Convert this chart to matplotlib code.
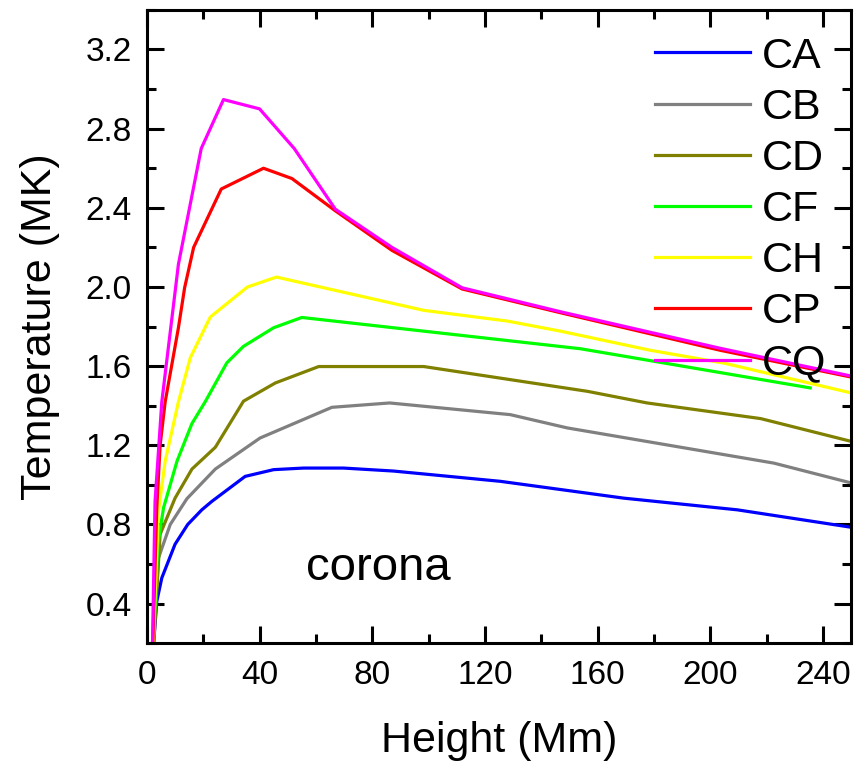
import matplotlib
matplotlib.use('Agg')
import matplotlib.pyplot as plt
from matplotlib.ticker import MultipleLocator

plt.rcParams['font.family'] = ['Liberation Sans', 'DejaVu Sans']

# temperature profiles (MK) against height (Mm)
ca_h = [1.8, 2.4, 3.5, 5.3, 10, 14.5, 19.5, 23.1, 34.9, 45, 55.6, 69.8, 87.5, 125.5, 169.3, 209.6, 250]
ca_t = [0.05, 0.2, 0.41, 0.53, 0.70, 0.80, 0.874, 0.917, 1.043, 1.077, 1.085, 1.085, 1.07, 1.018, 0.933, 0.874, 0.786]

cb_h = [1.8, 2.2, 4.1, 8.3, 14.2, 24.3, 40.2, 65.7, 86.2, 129, 149.2, 222.6, 250]
cb_t = [0.05, 0.2, 0.63, 0.80, 0.93, 1.08, 1.237, 1.392, 1.414, 1.355, 1.288, 1.11, 1.01]

cd_h = [1.8, 4.7, 10, 16, 24.3, 34.3, 45.6, 61, 98.3, 156.3, 177.6, 217.9, 250]
cd_t = [0.05, 0.75, 0.933, 1.08, 1.19, 1.423, 1.515, 1.598, 1.598, 1.473, 1.414, 1.335, 1.22]

cf_h = [1.8, 3.9, 5.9, 10.7, 16, 20.7, 28.4, 34.3, 45, 55, 153.9, 235.5]
cf_t = [0.05, 0.70, 0.883, 1.12, 1.31, 1.42, 1.617, 1.70, 1.794, 1.846, 1.688, 1.49]

ch_h = [1.8, 4.1, 6.5, 11.2, 15.4, 22.5, 35.7, 46, 98.3, 127.9, 146.8, 178.8, 205, 250]
ch_t = [0.05, 0.867, 1.12, 1.42, 1.642, 1.848, 2.0, 2.05, 1.882, 1.828, 1.777, 1.68, 1.615, 1.465]

cp_h = [1.8, 3.5, 4.7, 6.5, 11.2, 13.4, 16.6, 26.4, 41.4, 51.5, 66.9, 87, 111.9, 146.8, 203.6, 250]
cp_t = [0.05, 0.88, 1.20, 1.42, 1.794, 1.996, 2.20, 2.495, 2.60, 2.548, 2.385, 2.185, 1.99, 1.87, 1.68, 1.545]

cq_h = [1.8, 2.9, 5.3, 11.2, 19.3, 27.2, 40, 52.3, 66.9, 87, 111.9, 146.8, 203.6, 250]
cq_t = [0.05, 0.917, 1.42, 2.115, 2.70, 2.947, 2.90, 2.70, 2.393, 2.20, 1.996, 1.875, 1.69, 1.55]

series = [
    ('CA', ca_h, ca_t, '#0000ff'),
    ('CB', cb_h, cb_t, '#808080'),
    ('CD', cd_h, cd_t, '#808000'),
    ('CF', cf_h, cf_t, '#00ff00'),
    ('CH', ch_h, ch_t, '#ffff00'),
    ('CP', cp_h, cp_t, '#ff0000'),
    ('CQ', cq_h, cq_t, '#ff00ff'),
]

fig = plt.figure(figsize=(8.64, 7.63), dpi=100)
ax = fig.add_axes([0.170, 0.157, 0.815, 0.830])

for name, h, t, col in series:
    ax.plot(h, t, color=col, lw=2.3, label=name)

ax.set_xlim(0, 250)
ax.set_ylim(0.2, 3.4)
ax.xaxis.set_major_locator(MultipleLocator(40))
ax.xaxis.set_minor_locator(MultipleLocator(20))
ax.yaxis.set_major_locator(MultipleLocator(0.4))
ax.yaxis.set_minor_locator(MultipleLocator(0.2))
ax.set_yticks([0.4, 0.8, 1.2, 1.6, 2.0, 2.4, 2.8, 3.2])
ax.set_yticklabels(['0.4', '0.8', '1.2', '1.6', '2.0', '2.4', '2.8', '3.2'])

ax.tick_params(which='both', direction='in', top=True, right=True, width=2.2,
               labelsize=24)
ax.tick_params(axis='x', which='both', pad=12)
ax.tick_params(axis='y', which='both', pad=11)
ax.tick_params(which='major', length=12.5)
ax.tick_params(which='minor', length=6.8)
for sp in ax.spines.values():
    sp.set_linewidth(2.2)

ax.set_xlabel('Height (Mm)', fontsize=31, labelpad=22)
ax.set_ylabel('Temperature (MK)', fontsize=31, labelpad=18)

ax.text(56.6, 0.52, 'corona', fontsize=34, va='baseline')

ax.legend(loc='upper left', bbox_to_anchor=(0.7216, 0.958), frameon=False,
          fontsize=31, handlelength=2.2, handletextpad=0.28, labelspacing=0.26,
          borderpad=0, borderaxespad=0)

fig.savefig('out.png', dpi=100)
